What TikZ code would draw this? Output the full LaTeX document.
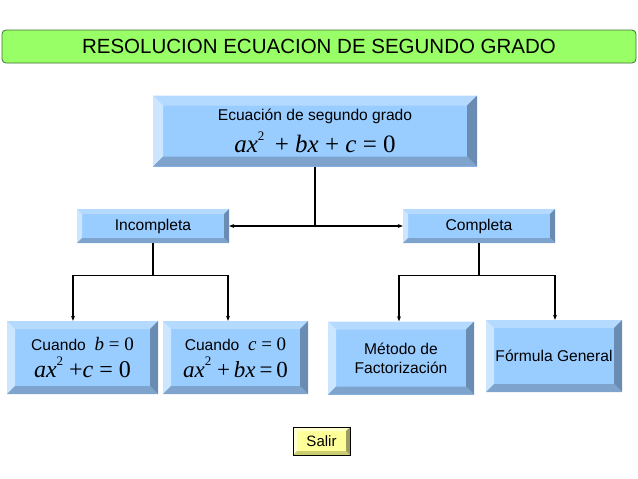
\documentclass[tikz,border=0pt]{standalone}
\usepackage{fontspec}
\setmainfont{Liberation Sans}
\newfontfamily\tms{Liberation Serif}
\usetikzlibrary{arrows.meta,calc}
\definecolor{bface}{HTML}{99CCFF}
\definecolor{btop}{HTML}{B5DAFF}
\definecolor{bleft}{HTML}{CCE6FF}
\definecolor{bright}{HTML}{6A8CB2}
\definecolor{bbot}{HTML}{7EA4CE}
\definecolor{yface}{HTML}{FFFF99}
\definecolor{ytop}{HTML}{FFFFCC}
\definecolor{yleft}{HTML}{FFFFD6}
\definecolor{yright}{HTML}{9C9C5E}
\definecolor{ybot}{HTML}{CCCC70}
\definecolor{tgreen}{HTML}{99FF66}
\definecolor{tborder}{HTML}{3F6F3A}
\newcommand\tx[1]{\textit{#1}}
\newcommand\sqr{\raisebox{0.5em}{\fontsize{13}{13}\selectfont 2}}
\begin{document}
\begin{tikzpicture}[x=1pt,y=-1pt,
  bevel/.style n args={6}{fill=#2, path picture={
    \path (path picture bounding box.north west) coordinate (bvnw)
          (path picture bounding box.north east) coordinate (bvne)
          (path picture bounding box.south west) coordinate (bvsw)
          (path picture bounding box.south east) coordinate (bvse);
    \fill[#3] (bvnw) -- (bvne) -- ([shift={(-#1,-#1)}]bvne) -- ([shift={(#1,-#1)}]bvnw) -- cycle;
    \fill[#4] (bvnw) -- (bvsw) -- ([shift={(#1,#1)}]bvsw) -- ([shift={(#1,-#1)}]bvnw) -- cycle;
    \fill[#5] (bvne) -- (bvse) -- ([shift={(-#1,#1)}]bvse) -- ([shift={(-#1,-#1)}]bvne) -- cycle;
    \fill[#6] (bvsw) -- (bvse) -- ([shift={(-#1,#1)}]bvse) -- ([shift={(#1,#1)}]bvsw) -- cycle;
  }},
  bbox/.style={bevel={#1}{bface}{btop}{bleft}{bright}{bbot}, inner sep=0pt, align=center,
    font=\fontsize{15.6}{19}\selectfont},
  ybox/.style={bevel={#1}{yface}{ytop}{yleft}{yright}{ybot}, draw=black, line width=0.6pt,
    inner sep=0pt, font=\fontsize{15}{18}\selectfont},
  conn/.style={line width=1.1pt, draw=black},
  arr/.style={conn, -{Stealth[length=5pt,width=4pt]}},
  barr/.style={conn, {Stealth[length=5pt,width=4pt]}-{Stealth[length=5pt,width=4pt]}}
]
\useasboundingbox (0,0) rectangle (638,479);

\node (title) [draw=tborder, fill=tgreen, rounded corners=4pt, line width=0.8pt,
  minimum width=634pt, minimum height=33pt, inner sep=0pt,
  font=\fontsize{20.5}{24}\selectfont] at (319,46.5) {RESOLUCION ECUACION DE SEGUNDO GRADO};

\node (top) [bbox=10pt, minimum width=324pt, minimum height=71pt] at (315,131)
  {Ecuación de segundo grado\\[7pt]
   {\tms\fontsize{25}{28}\selectfont\tx{ax}\sqr\ \,+ \tx{bx} + \tx{c} = 0}};

\node (inc) [bbox=5pt, minimum width=152pt, minimum height=34pt] at (153,226) {Incompleta};
\node (comp) [bbox=5pt, minimum width=152pt, minimum height=34pt] at (479,226) {Completa};

\node (b1) [bbox=8pt, minimum width=151pt, minimum height=73pt] at (82.5,357.5)
  {Cuando \ {\tms\fontsize{19}{20}\selectfont\tx{b} = 0}\\[6pt]
   {\tms\fontsize{24}{26}\selectfont\tx{ax}\sqr\ +\tx{c} = 0}};
\node (b2) [bbox=8pt, minimum width=145pt, minimum height=73pt] at (235.5,357.5)
  {Cuando \ {\tms\fontsize{19}{20}\selectfont\tx{c} = 0}\\[6pt]
   {\tms\fontsize{23}{26}\selectfont\tx{ax}\sqr\ +\,\tx{bx}\,=\,0}};
\node (b3) [bbox=8pt, minimum width=146pt, minimum height=73pt] at (401,358)
  {Método de\\Factorización};
\node (b4) [bbox=8pt, minimum width=136pt, minimum height=72pt] at (554,356)
  {Fórmula General};

\node (salir) [ybox=4pt, minimum width=57pt, minimum height=28pt] at (321.5,441) {Salir};

\coordinate (mid) at (top.south |- inc.east);
\draw[conn] (top.south) -- (mid);
\draw[barr] (inc.east) -- (comp.west);

\coordinate (jl) at ($(inc.south)+(0,32)$);
\coordinate (jr) at ($(comp.south)+(0,32)$);
\draw[conn] (inc.south) -- (jl);
\draw[conn] (comp.south) -- (jr);
\draw[arr] (jl) -| ([xshift=-9.5pt]b1.north);
\draw[arr] (jl) -| ([xshift=-7.5pt]b2.north);
\draw[arr] (jr) -| ([xshift=-2pt]b3.north);
\draw[arr] (jr) -| ([xshift=1pt]b4.north);
\end{tikzpicture}
\end{document}
